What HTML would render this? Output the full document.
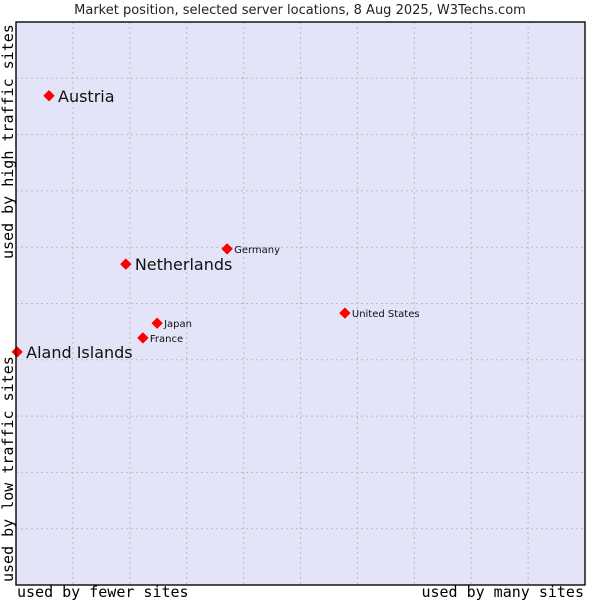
<!DOCTYPE html>
<html><head><meta charset="utf-8"><style>
body{margin:0;background:#fff}
svg{display:block}
</style></head><body>
<svg width="600" height="600" xmlns="http://www.w3.org/2000/svg">
<text x="300" y="14" text-anchor="middle" font-family="DejaVu Sans, sans-serif" font-size="13" fill="#222">Market position, selected server locations, 8 Aug 2025, W3Techs.com</text>
<rect x="16" y="22" width="569" height="563" fill="#e3e4f7" stroke="#000" stroke-width="1.2"/>
<g id="grid"></g>
<g id="points"></g>
<rect x="16" y="22" width="569" height="563" fill="none" stroke="#000" stroke-width="1.2"/>
<text x="17" y="597" font-family="DejaVu Sans Mono, monospace" font-size="15" fill="#000">used by fewer sites</text>
<text x="584" y="597" text-anchor="end" font-family="DejaVu Sans Mono, monospace" font-size="15" fill="#000">used by many sites</text>
<text transform="translate(13,259) rotate(-90)" font-family="DejaVu Sans Mono, monospace" font-size="15" fill="#000">used by high traffic sites</text>
<text transform="translate(13,582) rotate(-90)" font-family="DejaVu Sans Mono, monospace" font-size="15" fill="#000">used by low traffic sites</text>
</svg>
<script>
const names = ["Austria","Netherlands","Germany","United States","Japan","France","Aland Islands"];
const xValues = [5.8,19.3,37.1,57.8,24.8,22.3,0.2];
const yValues = [86.9,57.0,59.7,48.3,46.5,43.9,41.4];
const bigLabel = [true,true,false,false,false,false,true];
const NS="http://www.w3.org/2000/svg";
const L=16,T=22,W=569,H=563;
const sx=v=>L+v/100*W, sy=v=>T+H-v/100*H;
const grid=document.getElementById('grid');
for(let i=1;i<10;i++){
  const v=document.createElementNS(NS,'line');
  v.setAttribute('x1',sx(i*10));v.setAttribute('x2',sx(i*10));v.setAttribute('y1',T);v.setAttribute('y2',T+H);
  v.setAttribute('stroke','#bbb');v.setAttribute('stroke-dasharray','2,3');
  
  
  grid.appendChild(v);
  const h=document.createElementNS(NS,'line');
  h.setAttribute('y1',sy(i*10));h.setAttribute('y2',sy(i*10));h.setAttribute('x1',L);h.setAttribute('x2',L+W);
  h.setAttribute('stroke','#bbb');h.setAttribute('stroke-dasharray','2,3');
  
  
  grid.appendChild(h);
}
const pts=document.getElementById('points');
names.forEach((n,i)=>{
  const x=sx(xValues[i]),y=sy(yValues[i]);
  const p=document.createElementNS(NS,'path');
  p.setAttribute('d',`M${x} ${y-5}L${x+5} ${y}L${x} ${y+5}L${x-5} ${y}Z`);
  p.setAttribute('fill','#f00');
  p.setAttribute('stroke','#f00');
  p.setAttribute('stroke-linejoin','round');
  
  
  pts.appendChild(p);
  const t=document.createElementNS(NS,'text');
  t.setAttribute('x',x+(bigLabel[i]?9:7));
  t.setAttribute('y',y+(bigLabel[i]?6:4));
  t.setAttribute('font-family','DejaVu Sans, sans-serif');
  t.setAttribute('font-size',bigLabel[i]?16:10);
  t.setAttribute('fill','#111');
  t.textContent=n;
  
  
  pts.appendChild(t);
});
</script>
</body></html>
